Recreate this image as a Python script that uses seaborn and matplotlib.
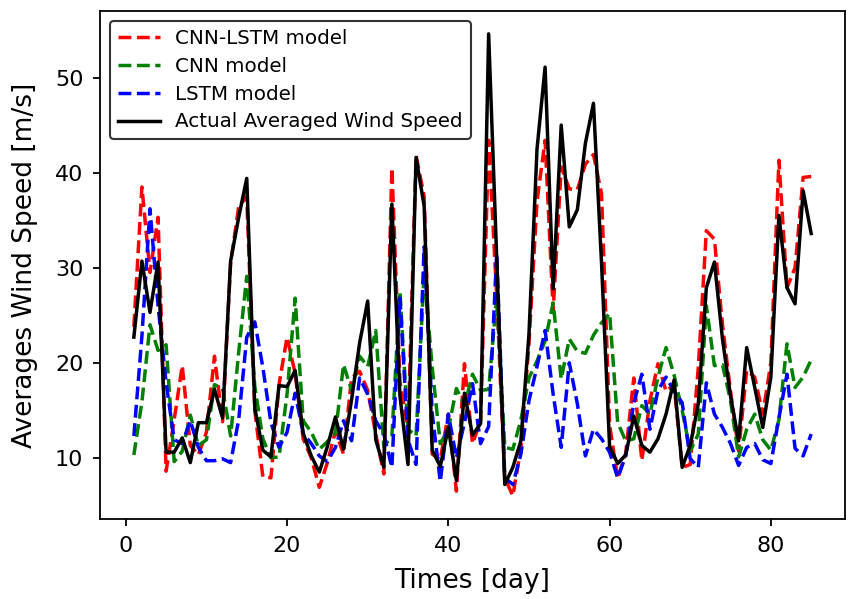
import numpy as np
import pandas as pd
import matplotlib
matplotlib.use("Agg")
import matplotlib.pyplot as plt
import seaborn as sns

# dados (dias 1..85)
days = list(range(1, 86))

actual = [22.7, 30.7, 25.3, 30.6, 10.6, 10.6, 12.1, 9.5, 13.7, 13.7,
          17.2, 14.2, 30.7, 35.3, 39.4, 15.2, 10.8, 10.1, 17.6, 17.5,
          19.2, 12.6, 10.2, 8.5, 11.2, 14.3, 10.9, 16.1, 22.1, 26.5,
          11.9, 9.0, 36.7, 16.5, 9.3, 41.6, 36.5, 10.8, 9.1, 13.2,
          7.6, 16.8, 12.4, 13.6, 54.6, 31.0, 7.2, 9.0, 11.8, 23.0,
          42.5, 51.1, 27.8, 45.0, 34.3, 36.1, 43.1, 47.3, 30.5, 11.2,
          9.4, 10.3, 14.4, 11.3, 10.6, 12.0, 14.6, 18.2, 9.0, 11.3,
          15.7, 27.9, 30.6, 22.5, 16.5, 11.8, 21.6, 17.4, 13.2, 18.5,
          35.5, 27.9, 26.2, 38.1, 33.6]

cnn_lstm = [23.8, 38.5, 29.5, 35.3, 8.6, 14.0, 19.7, 11.3, 10.3, 12.7,
            20.7, 13.8, 30.5, 36.4, 37.5, 15.0, 8.0, 7.9, 17.7, 22.7,
            18.9, 12.0, 10.0, 6.9, 9.5, 12.8, 10.4, 18.4, 19.1, 17.1,
            12.5, 8.3, 40.5, 18.0, 13.0, 41.8, 37.5, 10.4, 9.8, 14.6,
            6.5, 19.9, 11.5, 13.9, 43.4, 27.0, 7.9, 6.0, 11.0, 22.0,
            37.0, 43.4, 25.5, 40.6, 38.3, 38.2, 40.9, 41.9, 37.8, 13.5,
            7.8, 10.5, 18.4, 9.7, 16.0, 19.9, 17.0, 17.7, 9.0, 9.3,
            19.5, 33.9, 33.0, 24.0, 17.0, 10.7, 19.2, 18.5, 14.6, 20.0,
            41.3, 27.9, 30.0, 39.5, 39.6]

cnn = [10.3, 15.9, 24.0, 21.3, 21.9, 9.6, 10.7, 14.5, 11.3, 11.9,
       17.7, 17.3, 12.3, 21.1, 29.1, 17.5, 12.0, 10.0, 10.1, 16.7,
       26.8, 13.9, 12.7, 10.9, 11.7, 12.6, 19.8, 17.1, 20.7, 19.6,
       23.4, 11.2, 12.3, 27.5, 13.0, 12.3, 29.5, 19.5, 11.5, 13.0,
       17.3, 15.5, 18.8, 17.1, 17.2, 27.0, 11.1, 10.9, 14.0, 18.4,
       20.2, 22.3, 26.3, 18.3, 22.5, 21.2, 21.0, 22.9, 24.2, 25.2,
       13.7, 11.8, 12.0, 15.5, 14.6, 18.5, 21.6, 18.7, 15.0, 10.7,
       12.5, 26.0, 19.7, 19.8, 16.0, 10.1, 13.0, 14.6, 11.9, 10.8,
       14.0, 22.0, 17.4, 18.5, 20.3]

lstm = [12.3, 22.8, 36.2, 26.0, 17.9, 11.9, 11.5, 13.9, 11.1, 9.7,
        9.7, 9.9, 9.5, 14.0, 22.7, 24.3, 19.5, 13.7, 11.1, 12.7,
        16.8, 12.6, 11.5, 10.2, 9.6, 11.1, 13.9, 11.8, 18.4, 16.7,
        13.9, 12.5, 9.0, 26.8, 11.9, 9.3, 32.2, 14.7, 7.5, 14.6,
        10.0, 13.7, 17.8, 11.5, 13.3, 31.5, 7.9, 7.2, 10.4, 16.0,
        19.6, 23.4, 16.7, 11.1, 20.0, 15.7, 10.2, 13.0, 12.0, 10.6,
        7.9, 10.2, 15.8, 18.8, 13.0, 17.1, 18.5, 17.0, 15.8, 9.9,
        9.0, 17.9, 14.6, 13.2, 11.5, 9.2, 11.1, 11.5, 9.8, 9.4,
        14.2, 18.8, 11.0, 10.2, 12.5]

df = pd.DataFrame({'day': days, 'actual': actual, 'cnn_lstm': cnn_lstm,
                   'cnn': cnn, 'lstm': lstm})

fig = plt.figure(figsize=(8.51, 5.99), dpi=100)
ax = fig.add_axes([0.1175, 0.1336, 0.8755, 0.8484])

sns.lineplot(data=df, x='day', y='cnn_lstm', color='red', linestyle='--',
             linewidth=2.5, label='CNN-LSTM model', ax=ax)
sns.lineplot(data=df, x='day', y='cnn', color='green', linestyle='--',
             linewidth=2.5, label='CNN model', ax=ax)
sns.lineplot(data=df, x='day', y='lstm', color='blue', linestyle='--',
             linewidth=2.5, label='LSTM model', ax=ax)
sns.lineplot(data=df, x='day', y='actual', color='black', linewidth=2.5,
             label='Actual Averaged Wind Speed', ax=ax)

ax.set_xlabel('Times [day]', fontsize=19, labelpad=9)
ax.set_ylabel('Averages Wind Speed [m/s]', fontsize=19, labelpad=12)
ax.set_xticks([0, 20, 40, 60, 80])
ax.set_yticks([10, 20, 30, 40, 50])
ax.tick_params(labelsize=16, width=1.3, length=5, pad=7)
for s in ax.spines.values():
    s.set_linewidth(1.3)

leg = ax.legend(loc='upper left', fontsize=14.3, handlelength=2.1,
                labelspacing=0.45, framealpha=1, edgecolor='0.2',
                fancybox=True)
leg.get_frame().set_linewidth(1.5)

plt.savefig('out.png', dpi=100)
